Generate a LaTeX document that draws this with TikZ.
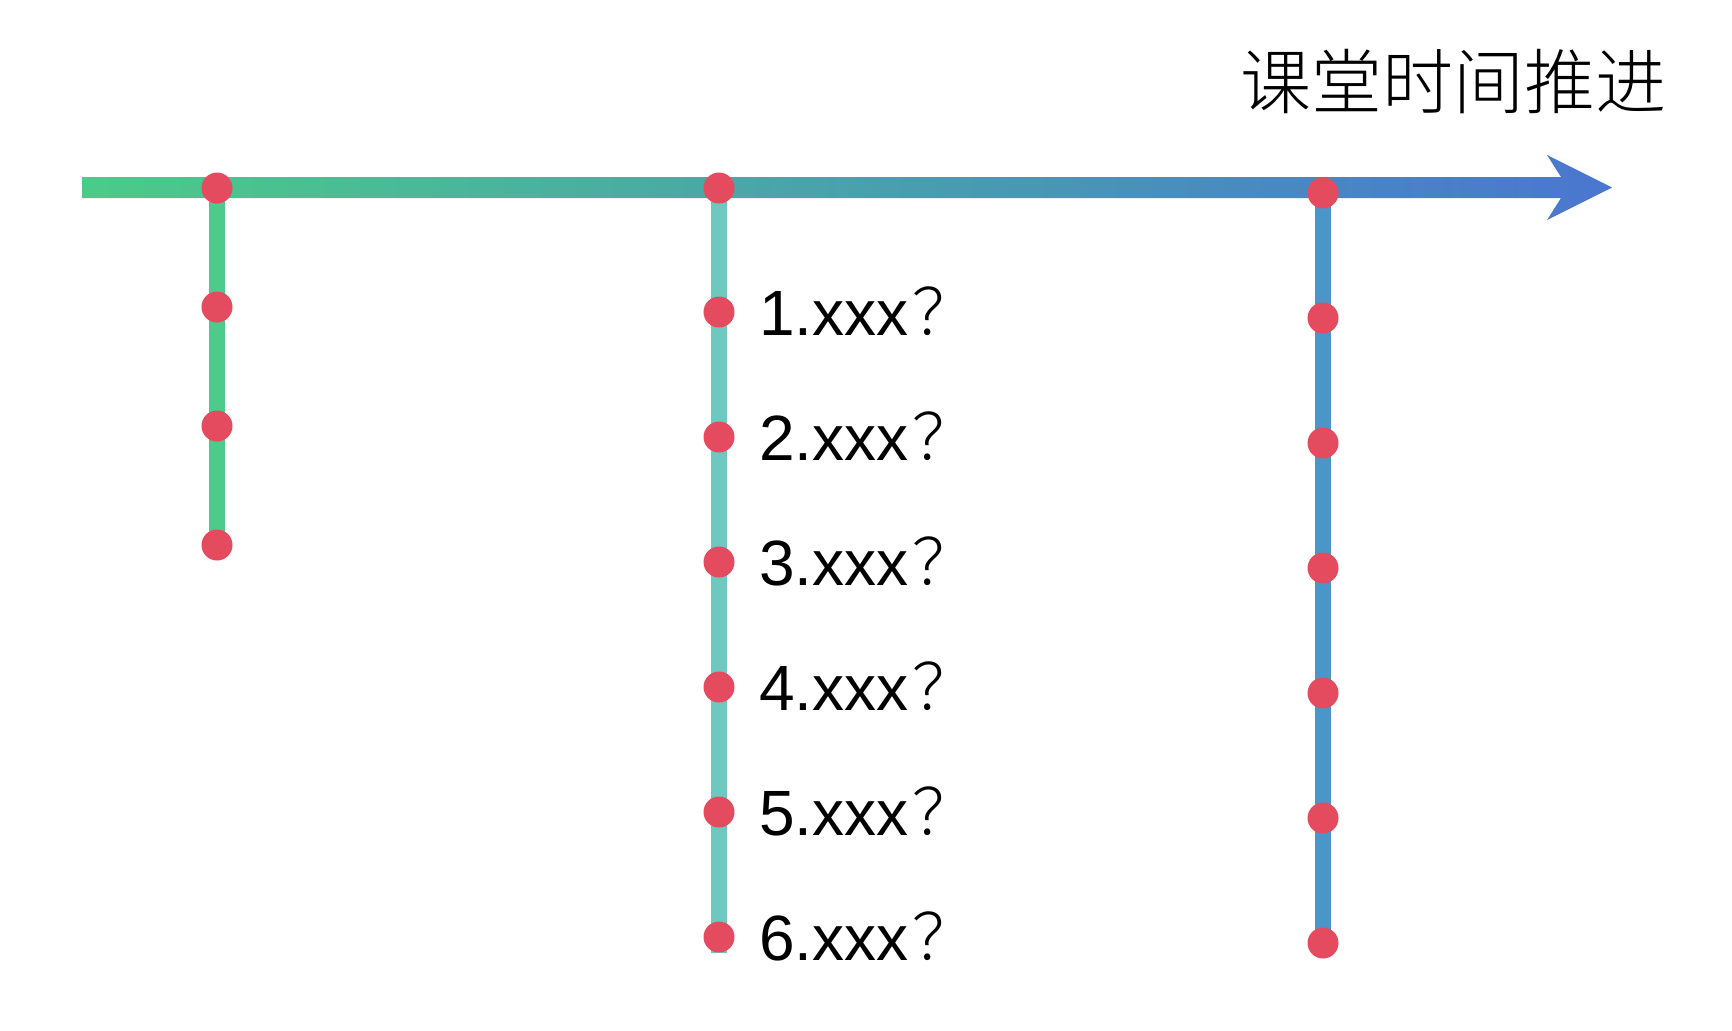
\documentclass[tikz,border=0pt]{standalone}
\usepackage{fontspec}
\setmainfont{Liberation Sans}
\IfFontExistsTF{Noto Sans CJK SC Light}
    {\newfontfamily\cjk{Noto Sans CJK SC Light}}
    {\newfontfamily\cjk{Noto Sans CJK SC}}
\usetikzlibrary{backgrounds}
\definecolor{axisGreen}{HTML}{4BCB88}
\definecolor{axisTeal}{HTML}{4AB5BA}
\definecolor{axisBlue}{HTML}{4A76D0}
\definecolor{stemGreen}{HTML}{4CCB8A}
\definecolor{stemTeal}{HTML}{6DC9C0}
\definecolor{stemBlue}{HTML}{4A96C9}
\definecolor{dotRed}{HTML}{E54B5F}
\begin{document}
\begin{tikzpicture}[x=0.5pt,y=-0.5pt,
    dot/.style={circle,fill=dotRed,inner sep=0pt,minimum size=15.5pt},
    stem/.style={line width=8pt},
    item/.style={anchor=base west,inner sep=0pt,font=\fontsize{32}{36}\selectfont}
    ]
    \useasboundingbox (0,0) rectangle (1732,1030);
    \node[inner sep=0pt,font=\cjk\fontsize{35.5}{40}\selectfont] (title) at (1453,82) {课堂时间推进};
    % dots on the three stems
    \foreach \i/\y in {1/188,2/307,3/426,4/545}
        \node[dot] (g\i) at (217,\y) {};
    \node[dot] (t0) at (719,188) {};
    \foreach \i in {1,...,6}{
        \node[dot] (t\i) at (719,187+125*\i) {};
        \node[item] (q\i) at (759,210+125*\i) {\i.xxx\hspace{2pt}{\cjk ？}};
    }
    \node[dot] (b0) at (1323,193) {};
    \foreach \i in {1,...,6}
        \node[dot] (b\i) at (1323,193+125*\i) {};
    \begin{scope}[on background layer]
    \draw[stem,stemGreen] (g1.center) -- (g4.center);
    \draw[stem,stemTeal] (t0.center) -- (t6.south);
    \draw[stem,stemBlue] (b0.center) -- (b6.center);
    % time axis
    \coordinate (A0) at (82,187.5);
    \coordinate (A1) at (1612,187.5);
    \shade[left color=axisGreen,middle color=axisTeal,right color=axisBlue]
        (82,177) -- (1561,177) -- (1547,155) -- (A1) -- (1547,220)
        -- (1561,198) -- (82,198) -- cycle;
    \end{scope}
\end{tikzpicture}
\end{document}
